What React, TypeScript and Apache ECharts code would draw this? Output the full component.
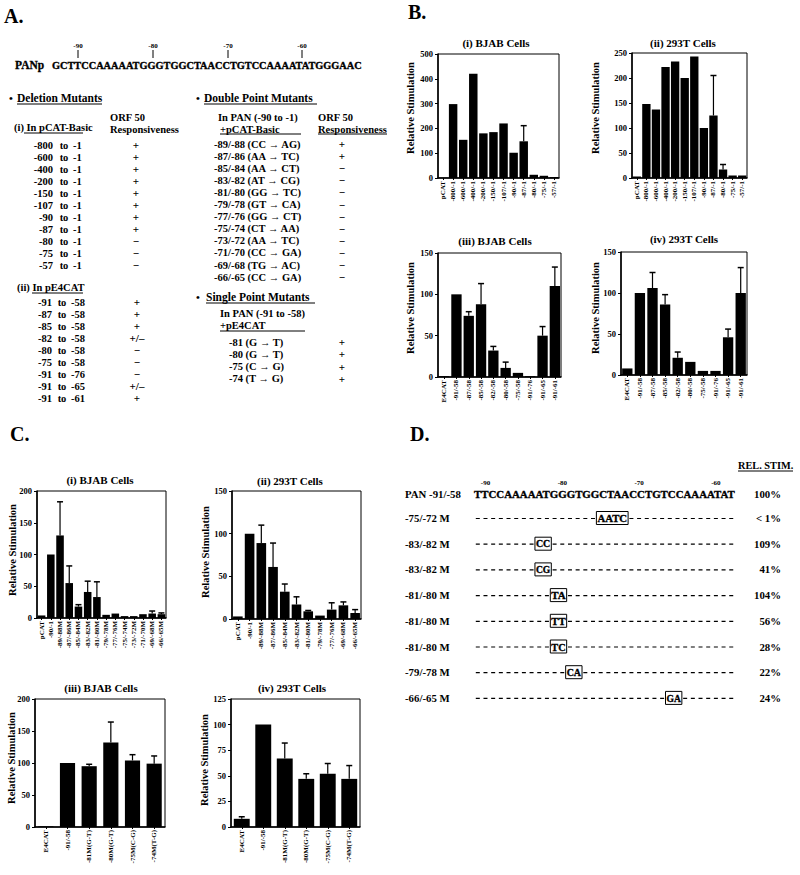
import React, { useEffect, useRef } from "react";
import * as echarts from "echarts";

const SERIF = "'Liberation Serif','Times New Roman',serif";

// ---------- Panel A data ----------
const promoterSeq = "GCTTCCAAAAATGGGTGGCTAACCTGTCCAAAATATGGGAAC";
const promoterMarks = ["-90", "-80", "-70", "-60"];
const delFrom = ["-800", "-600", "-400", "-200", "-150", "-107", "-90", "-87", "-80", "-75", "-57"];
const delResp = ["+", "+", "+", "+", "+", "+", "+", "+", "\u2212", "\u2212", "\u2212"];
const e4From = ["-91", "-87", "-85", "-82", "-80", "-75", "-91", "-91", "-91"];
const e4To = ["-58", "-58", "-58", "-58", "-58", "-58", "-76", "-65", "-61"];
const e4Resp = ["+", "+", "+", "+/\u2013", "\u2212", "\u2212", "\u2212", "+/\u2013", "+"];
const dblSites = ["-89/-88", "-87/-86", "-85/-84", "-83/-82", "-81/-80", "-79/-78", "-77/-76", "-75/-74", "-73/-72", "-71/-70", "-69/-68", "-66/-65"];
const dblFromNt = ["CC", "AA", "AA", "AT", "GG", "GT", "GG", "CT", "AA", "CC", "TG", "CC"];
const dblToNt = ["AG", "TC", "CT", "CG", "TC", "CA", "CT", "AA", "TC", "GA", "AC", "GA"];
const dblResp = ["+", "+", "\u2212", "\u2212", "\u2212", "\u2212", "\u2212", "\u2212", "\u2212", "\u2212", "\u2212", "\u2212"];
const sglSites = ["-81", "-80", "-75", "-74"];
const sglFromNt = ["G", "G", "C", "T"];
const sglToNt = ["T", "T", "G", "G"];
const sglResp = ["+", "+", "+", "+"];

// ---------- Panel B data ----------
const bDelCats = ["pCAT", "-800/-1", "-600/-1", "-400/-1", "-200/-1", "-150/-1", "-107/-1", "-90/-1", "-87/-1", "-80/-1", "-75/-1", "-57/-1"];
const bDelBjab = [1, 298, 154, 420, 180, 185, 220, 102, 148, 13, 9, 4];
const bDelBjabErr = [null, null, null, null, null, null, null, null, 211, null, null, null];
const bDel293 = [3, 148, 137, 222, 233, 200, 243, 100, 125, 17, 5, 5];
const bDel293Err = [null, null, null, null, null, null, null, null, 205, 27, null, null];
const bE4Cats = ["E4CAT", "-91/-58", "-87/-58", "-85/-58", "-82/-58", "-80/-58", "-75/-58", "-91/-76", "-91/-65", "-91/-61"];
const bE4Bjab = [1, 100, 74, 88, 32, 11, 5, 1, 50, 110];
const bE4BjabErr = [null, null, 79, 113, 37, 18, null, null, 61, 133];
const bE4293 = [8, 100, 106, 86, 21, 16, 5, 5, 46, 100];
const bE4293Err = [null, null, 125, 98, 28, null, null, null, 56, 131];

// ---------- Panel C data ----------
const cDblCatsBjab = ["pCAT", "-90/-1", "-89/-88M", "-87/-86M", "-85/-84M", "-83/-82M", "-81/-80M", "-79/-78M", "-77/-76M", "-75/-74M", "-73/-72M", "-71/-70M", "-69/-68M", "-66/-65M"];
const cDblBjab = [4, 100, 130, 55, 18, 41, 33, 5, 7, 3, 3, 6, 7, 6];
const cDblBjabErr = [null, null, 183, 82, 21, 58, 57, null, null, null, null, null, 11, 8];
const cDblCats293 = ["pCAT", "-90/-1", "-89/-88M", "-87/-86M", "-85/-84M", "-83/-82M", "-81/-80M", "-79/-78M", "-77/-76M", "-69/-68M", "-66/-65M"];
const cDbl293 = [3, 100, 89, 61, 32, 17, 9, 4, 11, 16, 7];
const cDbl293Err = [null, null, 110, 89, 41, 26, 10, null, 19, 20, 11];
const cSglCats = ["E4CAT", "-91/-58", "-81M(G-T)", "-80M(G-T)", "-75M(C-G)", "-74M(T-G)"];
const cSglBjab = [1, 100, 95, 132, 104, 99];
const cSglBjabErr = [null, null, 98, 164, 113, 111];
const cSgl293 = [8, 100, 67, 47, 52, 47];
const cSgl293Err = [10, null, 82, 52, 62, 60];

// y-axis tick settings [max, step]
const yTicks: [number, number][] = [[500, 100], [250, 50], [150, 50], [150, 50], [200, 50], [150, 50], [200, 50], [125, 25]];

// ---------- Panel D data ----------
const dSeq = "TTCCAAAAATGGGTGGCTAACCTGTCCAAAATAT";
const dSeqStart = -91;
const dMarks = [-90, -80, -70, -60];
const dLabels = ["-75/-72 M", "-83/-82 M", "-83/-82 M", "-81/-80 M", "-81/-80 M", "-81/-80 M", "-79/-78 M", "-66/-65 M"];
const dPos = [-75, -83, -83, -81, -81, -81, -79, -66];
const dMut = ["AATC", "CC", "CG", "TA", "TT", "TC", "CA", "GA"];
const dStim = ["< 1%", "109%", "41%", "104%", "56%", "28%", "22%", "24%"];

type ChartDef = {
  title: string;
  cats: string[];
  vals: number[];
  errs: (number | null)[];
  box: [number, number, number, number];
  gap: string;
  tx: number;
  ty: number;
  nx: number;
  ny: number;
};

const charts: ChartDef[] = [
  { title: "(i) BJAB Cells", cats: bDelCats, vals: bDelBjab, errs: bDelBjabErr, box: [438, 54, 121, 124], gap: "16%", tx: 496, ty: 43, nx: 410, ny: 108 },
  { title: "(ii) 293T Cells", cats: bDelCats, vals: bDel293, errs: bDel293Err, box: [632, 53, 115, 125], gap: "13%", tx: 683, ty: 43, nx: 595, ny: 108 },
  { title: "(iii) BJAB Cells", cats: bE4Cats, vals: bE4Bjab, errs: bE4BjabErr, box: [438, 253, 123, 124], gap: "16%", tx: 495, ty: 241, nx: 410, ny: 308 },
  { title: "(iv) 293T Cells", cats: bE4Cats, vals: bE4293, errs: bE4293Err, box: [621, 252, 126, 123], gap: "18%", tx: 684, ty: 239, nx: 595, ny: 308 },
  { title: "(i) BJAB Cells", cats: cDblCatsBjab, vals: cDblBjab, errs: cDblBjabErr, box: [37, 491, 129, 127], gap: "18%", tx: 100, ty: 480, nx: 12, ny: 550 },
  { title: "(ii) 293T Cells", cats: cDblCats293, vals: cDbl293, errs: cDbl293Err, box: [232, 491, 129, 128], gap: "18%", tx: 290, ty: 481, nx: 205, ny: 552 },
  { title: "(iii) BJAB Cells", cats: cSglCats, vals: cSglBjab, errs: cSglBjabErr, box: [35, 699, 130, 128], gap: "30%", tx: 101, ty: 688, nx: 11, ny: 758 },
  { title: "(iv) 293T Cells", cats: cSglCats, vals: cSgl293, errs: cSgl293Err, box: [231, 699, 129, 128], gap: "26%", tx: 292, ty: 688, nx: 204, ny: 760 },
];

function measure(text: string, size: number): number {
  try {
    const ctx = document.createElement("canvas").getContext("2d");
    if (!ctx) return 0;
    ctx.font = `bold ${size}px ${SERIF}`;
    return ctx.measureText(text).width;
  } catch (e) {
    return 0;
  }
}

function buildGraphics() {
  const g: any[] = [];
  const txt = (text: string, x: number, y: number, size: number, o: any = {}) =>
    g.push({
      type: "text",
      x,
      y,
      rotation: o.rot || 0,
      scaleX: o.sx || 1,
      silent: true,
      z: 10,
      style: {
        text,
        fontSize: size,
        fontWeight: o.w || "bold",
        fontFamily: o.f || SERIF,
        fill: "#000",
        stroke: o.heavy ? "#000" : null,
        lineWidth: o.heavy ? o.heavy : 0,
        align: o.a || "left",
        textAlign: o.a || "left",
        verticalAlign: "middle",
        textVerticalAlign: "middle",
      },
    });
  const line = (x1: number, y1: number, x2: number, y2: number, w = 1, dash?: number[]) =>
    g.push({
      type: "line",
      silent: true,
      z: 10,
      shape: { x1, y1, x2, y2 },
      style: { stroke: "#000", lineWidth: w, lineDash: dash || null },
    });
  const rect = (x: number, y: number, w: number, h: number) =>
    g.push({ type: "rect", silent: true, z: 10, shape: { x, y, width: w, height: h }, style: { fill: "transparent", stroke: "#000", lineWidth: 1 } });

  // Panel letters
  txt("A.", 4, 16, 20);
  txt("B.", 408, 12, 20);
  txt("C.", 10, 434, 20);
  txt("D.", 410, 434, 20);

  // ---- Panel A ----
  txt("PANp", 15, 65, 11.5, { heavy: 0.3 });
  const aSize = 10.5;
  const aW = measure(promoterSeq, aSize);
  txt(promoterSeq, 52, 65, aSize, { heavy: 0.35, sx: aW > 0 ? 310 / aW : 1 });
  const markX = [78, 153, 228, 302];
  promoterMarks.forEach((m, i) => {
    txt(m, markX[i], 46, 7, { a: "center" });
    line(markX[i], 50, markX[i], 58, 1);
  });

  txt("\u2022", 9, 98, 11);
  txt("Deletion Mutants", 17, 98, 11.5);
  line(17, 104, 102, 104, 1);
  txt("\u2022", 196, 98, 11);
  txt("Double Point Mutants", 204, 98, 11.5);
  line(204, 104, 317, 104, 1);

  txt("(i) In pCAT-Basic", 14, 127, 10.5);
  line(24, 133, 83, 133, 1);
  txt("ORF 50", 110, 117, 10.5);
  txt("Responsiveness", 110, 129, 10.5);

  delFrom.forEach((f, i) => {
    const y = 145 + i * 12;
    txt(f, 53, y, 10.5, { a: "right" });
    txt("to", 64, y, 10.5, { a: "center" });
    txt("-1", 73, y, 10.5);
    txt(delResp[i], 136, y, 11, { a: "center" });
  });

  txt("(ii) In pE4CAT", 17, 287, 10.5);
  line(32, 293, 83, 293, 1);
  e4From.forEach((f, i) => {
    const y = 302 + i * 12;
    txt(f, 52, y, 10.5, { a: "right" });
    txt("to", 62, y, 10.5, { a: "center" });
    txt(e4To[i], 71, y, 10.5);
    txt(e4Resp[i], 137, y, 11, { a: "center" });
  });

  txt("In PAN (-90 to -1)", 218, 117, 10.5);
  txt("+pCAT-Basic", 220, 129, 10.5);
  line(220, 134, 301, 134, 1);
  txt("ORF 50", 318, 117, 10.5);
  txt("Responsiveness", 318, 129, 10.5);
  line(318, 134, 387, 134, 1);
  dblSites.forEach((s, i) => {
    const y = 144 + i * 12.1;
    txt(`${s} (${dblFromNt[i]} \u2192 ${dblToNt[i]})`, 214, y, 10.5);
    txt(dblResp[i], 342, y, 11, { a: "center" });
  });

  txt("\u2022", 196, 297, 11);
  txt("Single Point Mutants", 206, 297, 11.5);
  line(206, 303, 315, 303, 1);
  txt("In PAN (-91 to -58)", 220, 313, 10.5);
  txt("+pE4CAT", 220, 325, 10.5);
  line(220, 331, 305, 331, 1);
  sglSites.forEach((s, i) => {
    const y = 342 + i * 12.3;
    txt(`${s} (${sglFromNt[i]} \u2192 ${sglToNt[i]})`, 229, y, 10.5);
    txt(sglResp[i], 342, y, 11, { a: "center" });
  });

  // ---- Panel B / C titles and y names ----
  charts.forEach((c) => {
    txt(c.title, c.tx, c.ty, 11, { a: "center" });
    txt("Relative Stimulation", c.nx, c.ny, 10.5, { a: "center", rot: Math.PI / 2 });
  });

  // ---- Panel D ----
  const cw = 7.68;
  const sx = 474;
  txt("REL. STIM.", 738, 465, 10.3);
  line(738, 471, 793, 471, 1);
  dMarks.forEach((m) => {
    const idx = m - dSeqStart;
    txt(String(m), sx + (idx + 0.5) * cw, 483, 7, { a: "center" });
  });
  txt("PAN -91/-58", 405, 494, 10.8);
  const dSize = 11;
  const dW = measure(dSeq, dSize);
  txt(dSeq, sx, 494, dSize, { heavy: 0.35, sx: dW > 0 ? (dSeq.length * cw) / dW : 1 });
  txt("100%", 781, 494, 10.8, { a: "right" });
  const dashPat = [4, cw - 4];
  dLabels.forEach((lab, i) => {
    const y = 518 + i * 25.7;
    const idx = dPos[i] - dSeqStart;
    const mut = dMut[i];
    const bx0 = sx + idx * cw;
    const bx1 = sx + (idx + mut.length) * cw;
    txt(lab, 405, y, 10.8);
    if (idx > 0) line(sx + 1.8, y + 0.5, bx0, y + 0.5, 1.2, dashPat);
    if (idx + mut.length < dSeq.length) line(bx1 + 1.8, y + 0.5, sx + dSeq.length * cw, y + 0.5, 1.2, dashPat);
    const mW = measure(mut, dSize);
    const mSx = mW > 0 ? Math.min(1.15, (mut.length * cw - 1) / mW) : 1;
    txt(mut, (bx0 + bx1) / 2, y, dSize, { a: "center", heavy: 0.35, sx: mSx });
    rect(bx0 - 0.5, y - 6.5, mut.length * cw + 1, 13);
    txt(dStim[i], 781, y, 10.8, { a: "right" });
  });

  return g;
}

function errRender(params: any, api: any) {
  const x = api.value(0);
  const v = api.value(1);
  const e = api.value(2);
  const p0 = api.coord([x, v]);
  const p1 = api.coord([x, e]);
  return {
    type: "group",
    children: [
      { type: "line", shape: { x1: p0[0], y1: p0[1], x2: p1[0], y2: p1[1] }, style: { stroke: "#000", lineWidth: 1.2 } },
      { type: "line", shape: { x1: p1[0] - 3, y1: p1[1], x2: p1[0] + 3, y2: p1[1] }, style: { stroke: "#000", lineWidth: 1.5 } },
    ],
  };
}

function buildOption() {
  return {
    animation: false,
    backgroundColor: "#fff",
    grid: charts.map((c) => ({
      left: c.box[0],
      top: c.box[1],
      width: c.box[2],
      height: c.box[3],
      show: true,
      borderColor: "#000",
      borderWidth: 1,
      backgroundColor: "transparent",
      containLabel: false,
      outerBoundsMode: "none",
    })),
    xAxis: charts.map((c, i) => ({
      type: "category",
      gridIndex: i,
      data: c.cats,
      axisLine: { show: true, lineStyle: { color: "#000", width: 1.5 } },
      axisTick: { show: true, alignWithLabel: true, length: 2, lineStyle: { color: "#000" } },
      axisLabel: { rotate: 90, interval: 0, fontSize: 7, fontWeight: "bold", fontFamily: SERIF, color: "#000", margin: 3 },
      splitLine: { show: false },
    })),
    yAxis: charts.map((c, i) => ({
      type: "value",
      gridIndex: i,
      min: 0,
      max: yTicks[i][0],
      interval: yTicks[i][1],
      axisLine: { show: true, lineStyle: { color: "#000", width: 1.5 } },
      axisTick: { show: true, length: 3, lineStyle: { color: "#000" } },
      axisLabel: { fontSize: 8.5, fontWeight: "bold", fontFamily: SERIF, color: "#000", margin: 5 },
      splitLine: { show: false },
    })),
    series: charts.flatMap((c, i) => [
      {
        type: "bar",
        xAxisIndex: i,
        yAxisIndex: i,
        data: c.vals,
        barCategoryGap: c.gap,
        itemStyle: { color: "#000" },
        silent: true,
      },
      {
        type: "custom",
        xAxisIndex: i,
        yAxisIndex: i,
        silent: true,
        z: 3,
        renderItem: errRender,
        encode: { x: 0, y: [1, 2] },
        data: c.errs
          .map((e, j) => (e == null ? null : [j, c.vals[j], e]))
          .filter((d) => d !== null),
      },
    ]),
    graphic: { elements: buildGraphics() },
  };
}

export default function App() {
  const ref = useRef<HTMLDivElement>(null);
  useEffect(() => {
    if (!ref.current) return;
    const chart = echarts.init(ref.current, null, { renderer: "svg" });
    chart.setOption(buildOption() as any);
    return () => chart.dispose();
  }, []);
  return (
    <div
      ref={ref}
      style={{ position: "absolute", left: 0, top: 0, width: 800, height: 875, background: "#fff" }}
    />
  );
}
